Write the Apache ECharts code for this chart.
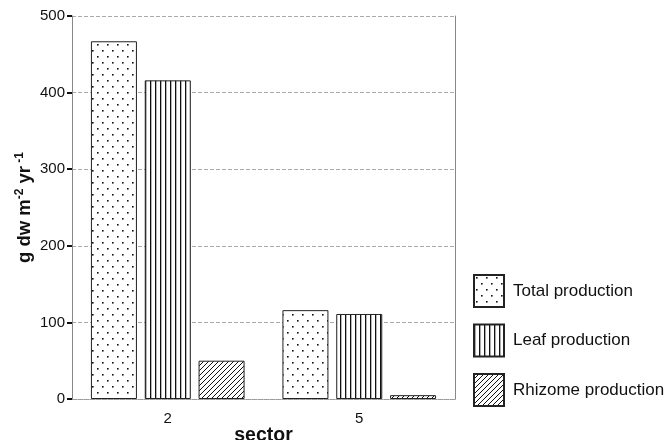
<!DOCTYPE html>
<html><head><meta charset="utf-8">
<script src="https://cdn.jsdelivr.net/npm/echarts@6/dist/echarts.min.js"></script>
<style>html,body{margin:0;padding:0;background:#fff}#c{width:670px;height:440px}</style>
</head><body><div id="c"></div>
<script>
var categories = ['2', '5'];
var totalProduction = [467, 116];
var leafProduction = [416, 111];
var rhizomeProduction = [50, 5];
var seriesNames = ['Total production', 'Leaf production', 'Rhizome production'];

function tile(w, h, draw) {
  var c = document.createElement('canvas');
  c.width = w; c.height = h;
  var g = c.getContext('2d');
  g.fillStyle = '#fff'; g.fillRect(0, 0, w, h);
  g.fillStyle = '#111'; g.strokeStyle = '#111';
  draw(g);
  return c;
}
var dots = tile(10, 12, function (g) { g.fillRect(2, 2, 1.6, 1.6); g.fillRect(7, 8, 1.6, 1.6); });
var vlines = tile(5, 5, function (g) { g.fillRect(0, 0, 1.3, 5); });
var hatch = tile(5, 5, function (g) {
  g.lineWidth = 1;
  g.beginPath(); g.moveTo(-1, 6); g.lineTo(6, -1); g.stroke();
  g.beginPath(); g.moveTo(-1, 1); g.lineTo(1, -1); g.stroke();
  g.beginPath(); g.moveTo(4, 6); g.lineTo(6, 4); g.stroke();
});
function pat(c) { return { image: c, repeat: 'repeat' }; }

var chart = echarts.init(document.getElementById('c'));
var fontF = 'Liberation Sans, Arial, sans-serif';
function bar(name, data, c) {
  return {
    name: name, type: 'bar', data: data, barWidth: 46, barGap: '17%',
    itemStyle: { color: pat(c), borderColor: '#222', borderWidth: 1 }
  };
}
chart.setOption({
  animation: false,
  textStyle: { fontFamily: fontF },
  grid: { left: 72, right: 215, top: 16, bottom: 41, outerBoundsMode: 'none', containLabel: false },
  legend: {
    orient: 'vertical', left: 473, top: 274, padding: 0, itemWidth: 30, itemHeight: 32, itemGap: 15.5,
    icon: 'rect',
    textStyle: { fontSize: 17, color: '#111', fontFamily: fontF, padding: [0, 0, 0, 4] },
    data: seriesNames
  },
  xAxis: {
    type: 'category', data: categories,
    name: 'sector', nameLocation: 'middle', nameGap: 27, nameMoveOverlap: false,
    nameTextStyle: { fontSize: 19.5, fontWeight: 'bold', color: '#111' },
    axisLine: { lineStyle: { color: '#999', type: 'dotted', width: 1 } },
    axisTick: { alignWithLabel: true, length: 6, lineStyle: { color: '#111', width: 2 } },
    axisLabel: { fontSize: 15, color: '#111', margin: 12 }
  },
  yAxis: [{
    type: 'value', min: 0, max: 500, interval: 100,
    name: '{a|g dw m}{s|-2}{a| yr}{s| -1}', nameLocation: 'middle', nameGap: 36, nameMoveOverlap: false,
    nameTextStyle: {
      rich: {
        a: { fontSize: 18.5, fontWeight: 'bold', color: '#111', lineHeight: 22, fontFamily: fontF },
        s: { fontSize: 12, fontWeight: 'bold', color: '#111', lineHeight: 13, verticalAlign: 'top', fontFamily: fontF }
      }
    },
    axisLine: { show: true, lineStyle: { color: '#888', width: 1 } },
    axisTick: { show: true, length: 5, lineStyle: { color: '#111', width: 2 } },
    axisLabel: { fontSize: 15, color: '#111', margin: 7 },
    splitLine: { lineStyle: { color: '#aaa', type: [4, 2], width: 1 } }
  }, {
    type: 'value', min: 0, max: 500, interval: 100, position: 'right',
    axisLine: { show: true, lineStyle: { color: '#888', width: 1 } },
    axisTick: { show: false }, axisLabel: { show: false }, splitLine: { show: false }
  }],
  series: [
    bar(seriesNames[0], totalProduction, dots),
    bar(seriesNames[1], leafProduction, vlines),
    bar(seriesNames[2], rhizomeProduction, hatch)
  ]
});
</script></body></html>
